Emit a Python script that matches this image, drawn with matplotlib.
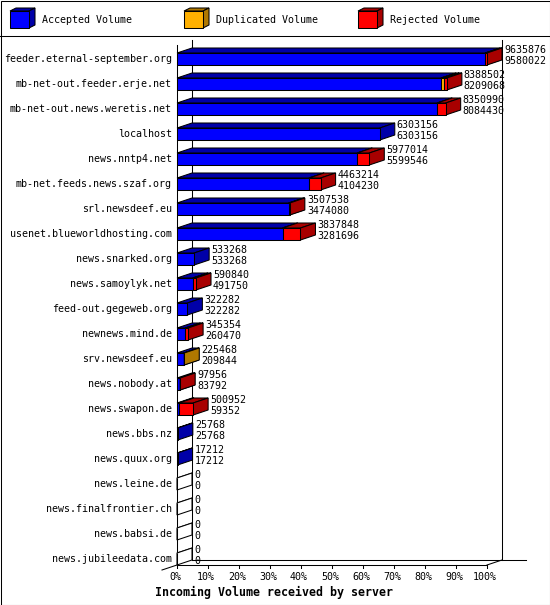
import matplotlib
matplotlib.use('Agg')
import matplotlib.pyplot as plt
from matplotlib.patches import Polygon, Rectangle

# data
servers = ['feeder.eternal-september.org', 'mb-net-out.feeder.erje.net',
           'mb-net-out.news.weretis.net', 'localhost', 'news.nntp4.net',
           'mb-net.feeds.news.szaf.org', 'srl.newsdeef.eu',
           'usenet.blueworldhosting.com', 'news.snarked.org',
           'news.samoylyk.net', 'feed-out.gegeweb.org', 'newnews.mind.de',
           'srv.newsdeef.eu', 'news.nobody.at', 'news.swapon.de',
           'news.bbs.nz', 'news.quux.org', 'news.leine.de',
           'news.finalfrontier.ch', 'news.babsi.de', 'news.jubileedata.com']
total = [9635876, 8388502, 8350990, 6303156, 5977014, 4463214, 3507538,
         3837848, 533268, 590840, 322282, 345354, 225468, 97956, 500952,
         25768, 17212, 0, 0, 0, 0]
accepted = [9580022, 8209068, 8084430, 6303156, 5599546, 4104230, 3474080,
            3281696, 533268, 491750, 322282, 260470, 209844, 83792, 59352,
            25768, 17212, 0, 0, 0, 0]
# duplicated share is not printed, estimated from the bar faces
duplicated = [0, 95000, 0, 0, 0, 0, 0, 0, 0, 0, 0, 0, 15624, 0, 0,
              0, 0, 0, 0, 0, 0]
rejected = [t - a - d for t, a, d in zip(total, accepted, duplicated)]

legend_names = ['Accepted Volume', 'Duplicated Volume', 'Rejected Volume']
front_col = ['#0000ff', '#ffb000', '#ff0000']
dark_col = ['#0000a8', '#b07800', '#a80000']

W, H = 550, 605
mono = 'DejaVu Sans Mono'
fs = 7.2
lw = 0.75

fig = plt.figure(figsize=(W / 100, H / 100), dpi=100)

# frame / legend layer in pixel units
fr = fig.add_axes([0, 0, 1, 1])
fr.set_xlim(0, W)
fr.set_ylim(H, 0)
fr.axis('off')
fr.add_patch(Rectangle((0.5, 0.5), W - 1, H - 1, fill=False, ec='black', lw=lw))
fr.plot([0, W], [35.5, 35.5], color='black', lw=lw)

lx = [10, 184, 358]
for i, name in enumerate(legend_names):
    x0, y0, bw, bh, d, e = lx[i], 11, 19, 17, 6, 3
    fr.add_patch(Polygon([(x0, y0), (x0 + bw, y0), (x0 + bw + d, y0 - e), (x0 + d, y0 - e)],
                         fc=dark_col[i], ec='black', lw=lw))
    fr.add_patch(Polygon([(x0 + bw, y0), (x0 + bw + d, y0 - e), (x0 + bw + d, y0 + bh - e), (x0 + bw, y0 + bh)],
                         fc=dark_col[i], ec='black', lw=lw))
    fr.add_patch(Rectangle((x0, y0), bw, bh, fc=front_col[i], ec='black', lw=lw))
    fr.text(x0 + 32, 20, name, family=mono, fontsize=fs, va='center', ha='left')

fr.text(155, 592, 'Incoming Volume received by server', family=mono,
        fontsize=8.4, fontweight='bold', va='center', ha='left')

# bar area: x in percent of the largest total, y in rows
ax = fig.add_axes([177 / W, 40 / H, 310 / W, 525 / H])
ax.set_xlim(0, 100)
ax.set_ylim(20.24, -0.76)
ax.axis('off')

px = 100 / 310.0          # percent per pixel
DX, DY = 15 * px, 0.2     # depth of the 3d boxes
h = 0.24

# walls and floor (behind the bars)
kw = dict(color='black', lw=lw, clip_on=False, zorder=0.5)
ax.plot([DX, DX], [-0.76, 20.04], **kw)
ax.plot([0, 0], [-0.56, 20.24], **kw)
ax.plot([100 + DX, 100 + DX], [-0.76, 20.04], **kw)
ax.plot([-DX, 0], [20.44, 20.24], **kw)
ax.plot([0, 100], [20.24, 20.24], **kw)
ax.plot([100, 100 + DX], [20.24, 20.04], **kw)
ax.plot([DX, 349 * px], [20.04, 20.04], **kw)
for t in range(0, 101, 10):
    ax.plot([t, t], [20.24, 20.24 + 3 / 25], **kw)
    ax.text(t - 2 * px, 20.72, f'{t}%', family=mono, fontsize=fs,
            ha='center', va='center', clip_on=False)


def box(s, e, y, fc, dc):
    ax.add_patch(Polygon([(s, y - h), (e, y - h), (e + DX, y - h - DY), (s + DX, y - h - DY)],
                         fc=dc, ec='black', lw=lw, clip_on=False))
    ax.add_patch(Polygon([(e, y - h), (e + DX, y - h - DY), (e + DX, y + h - DY), (e, y + h)],
                         fc=dc, ec='black', lw=lw, clip_on=False))
    ax.add_patch(Polygon([(s, y - h), (e, y - h), (e, y + h), (s, y + h)],
                         fc=fc, ec='black', lw=lw, clip_on=False))


vmax = max(total)
for r, name in enumerate(servers):
    segs = [accepted[r], duplicated[r], rejected[r]]
    start = 0.0
    if total[r] == 0:
        box(0, 0, r, 'white', 'white')
    for k, v in enumerate(segs):
        if v <= 0:
            continue
        end = start + v / vmax * 100
        box(start, end, r, front_col[k], dark_col[k])
        start = end
    xt = total[r] / vmax * 100 + DX + 2 * px
    ax.text(xt, r - 0.36, str(total[r]), family=mono, fontsize=fs,
            ha='left', va='center', clip_on=False)
    ax.text(xt, r + 0.08, str(accepted[r]), family=mono, fontsize=fs,
            ha='left', va='center', clip_on=False)
    ax.text(-5 * px, r, name, family=mono, fontsize=fs,
            ha='right', va='center', clip_on=False)

fig.savefig('out.png', dpi=100)
